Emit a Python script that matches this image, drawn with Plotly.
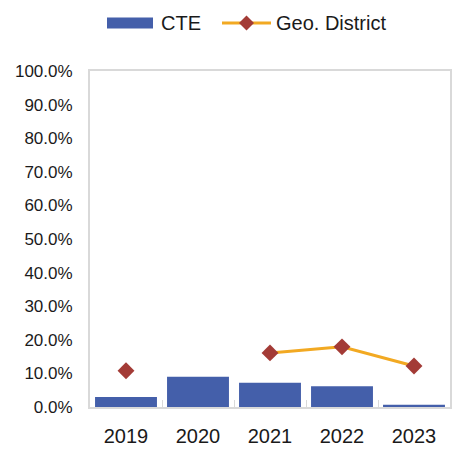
import plotly.graph_objects as go

years = ["2019", "2020", "2021", "2022", "2023"]
cte = [0.030, 0.090, 0.072, 0.062, 0.007]
geo_district = [0.108, None, 0.161, 0.179, 0.122]

BAR_COLOR = "#445FAA"
LINE_COLOR = "#F2A922"
MARKER_COLOR = "#A33B36"
FONT = "Liberation Sans, Arial, sans-serif"

W, H = 456, 449
L, R, T, B = 90, 6, 71, 42
PW, PH = W - L - R, H - T - B


def px_x(v):
    return (v - L) / PW


def px_y(v):
    return (H - B - v) / PH


fig = go.Figure()
fig.add_trace(go.Bar(
    x=years, y=cte, name="CTE",
    marker=dict(color=BAR_COLOR, line=dict(width=0)),
    showlegend=False,
))
fig.add_trace(go.Scatter(
    x=years, y=geo_district, name="Geo. District",
    mode="lines+markers",
    line=dict(color=LINE_COLOR, width=3),
    marker=dict(symbol="diamond", size=13, color=MARKER_COLOR),
    connectgaps=False,
    showlegend=False,
))

# legend drawn in the header strip: wide bar swatch and line-with-diamond swatch
ly = 23
shapes = [
    dict(type="rect", xref="paper", yref="paper",
         x0=px_x(107), x1=px_x(153), y0=px_y(ly + 5.5), y1=px_y(ly - 5.5),
         fillcolor=BAR_COLOR, line=dict(width=0)),
    dict(type="line", xref="paper", yref="paper",
         x0=px_x(222), x1=px_x(271), y0=px_y(ly), y1=px_y(ly),
         line=dict(color=LINE_COLOR, width=3)),
    dict(type="path", xref="paper", yref="paper",
         path=(f"M {px_x(246.5)},{px_y(ly - 7.5)} L {px_x(254)},{px_y(ly)} "
               f"L {px_x(246.5)},{px_y(ly + 7.5)} L {px_x(239)},{px_y(ly)} Z"),
         fillcolor=MARKER_COLOR, line=dict(width=0)),
]
annotations = [
    dict(text="CTE", xref="paper", yref="paper", x=px_x(159), y=px_y(ly),
         xanchor="left", yanchor="middle", showarrow=False,
         font=dict(size=20, family=FONT, color="#1a1a1a")),
    dict(text="Geo. District", xref="paper", yref="paper", x=px_x(274), y=px_y(ly),
         xanchor="left", yanchor="middle", showarrow=False,
         font=dict(size=20, family=FONT, color="#1a1a1a")),
]

fig.update_layout(
    width=W, height=H,
    margin=dict(l=L, r=R, t=T, b=B),
    paper_bgcolor="white", plot_bgcolor="white",
    font=dict(family=FONT, color="#1a1a1a"),
    bargap=0.14,
    showlegend=False,
    shapes=shapes,
    annotations=annotations,
    xaxis=dict(
        type="category", automargin=False,
        showline=True, linecolor="#D9D9D9", linewidth=2, mirror=True,
        ticks="inside", tickson="boundaries", ticklen=7, tickcolor="#D9D9D9",
        tickfont=dict(size=20, family=FONT),
        ticklabelstandoff=10,
        showgrid=False,
    ),
    yaxis=dict(
        range=[0, 1], dtick=0.1, tickformat=".1%", automargin=False,
        showline=True, linecolor="#D9D9D9", linewidth=2, mirror=True,
        showgrid=False, zeroline=False, ticks="",
        tickfont=dict(size=17, family=FONT),
        ticklabelstandoff=12,
    ),
)

fig.write_html("out.html")
